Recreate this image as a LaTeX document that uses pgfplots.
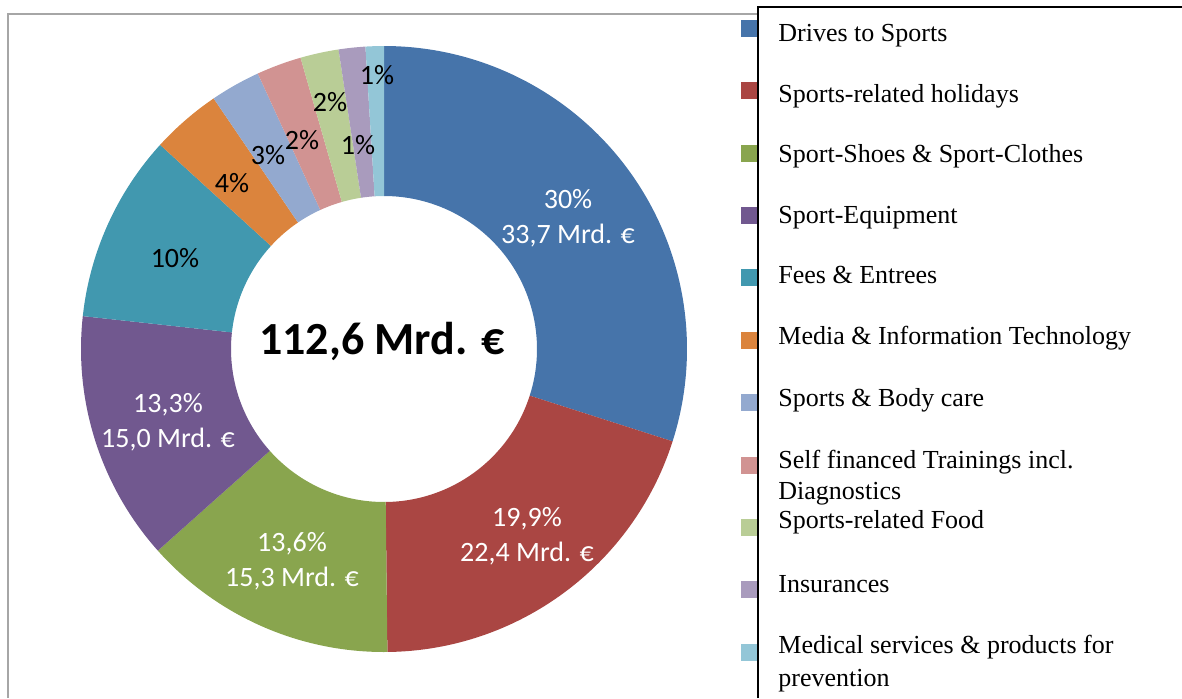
\documentclass[border=0pt]{standalone}
\usepackage{pgfplots}
\pgfplotsset{compat=1.18}
\usepackage{pgfplotstable}
\usepackage{fontspec}
\setmainfont{Liberation Serif}
\newfontfamily\calib{Carlito}
\usetikzlibrary{calc}
\definecolor{c0}{HTML}{4674AA}
\definecolor{c1}{HTML}{AA4643}
\definecolor{c2}{HTML}{89A54E}
\definecolor{c3}{HTML}{71588F}
\definecolor{c4}{HTML}{4198AF}
\definecolor{c5}{HTML}{DB843D}
\definecolor{c6}{HTML}{93A9CF}
\definecolor{c7}{HTML}{D19392}
\definecolor{c8}{HTML}{B9CD96}
\definecolor{c9}{HTML}{A99BBD}
\definecolor{c10}{HTML}{93C6D7}
\definecolor{framegray}{HTML}{A6A6A6}
% spending in Mrd. EUR, clockwise from the top
\pgfplotstableread{
id val
0 33.7
1 22.4
2 15.3
3 15.0
4 11.3
5 4.2
6 3.0
7 2.7
8 2.3
9 1.6
10 1.1
}\slices
\begin{document}
\begin{tikzpicture}
\begin{axis}[scale only axis, width=591pt, height=349pt,
  xmin=0, xmax=1182, ymin=0, ymax=698, y dir=reverse, hide axis]
% frame
\draw[framegray, line width=1pt] (axis cs:8,698) -- (axis cs:8,14) -- (axis cs:758,14);
% donut
\def\total{0}
\pgfplotsforeachungrouped \i in {0,...,10}{%
  \pgfplotstablegetelem{\i}{val}\of\slices
  \pgfmathsetmacro\total{\total+\pgfplotsretval}%
}
\def\angA{90}
\pgfplotsforeachungrouped \i in {0,...,10}{%
  \pgfplotstablegetelem{\i}{val}\of\slices
  \pgfmathsetmacro\angB{\angA-360*\pgfplotsretval/\total}%
  \edef\temp{\noexpand\fill[c\i] ($(axis cs:384,349)+(\angA:151.5pt)$) arc[start angle=\angA,end angle=\angB,radius=151.5pt] -- ($(axis cs:384,349)+(\angB:76.5pt)$) arc[start angle=\angB,end angle=\angA,radius=76.5pt] -- cycle;}%
  \temp
  \let\angA\angB
}
% slice labels
\tikzset{lab/.style={font=\calib\fontsize{14}{17.5}\selectfont, align=center, inner sep=0pt}}
\node[lab, text=white] at (axis cs:568,218) {30\%\\33,7 Mrd. €};
\node[lab, text=white] at (axis cs:527,536) {19,9\%\\22,4 Mrd. €};
\node[lab, text=white] at (axis cs:292,561) {13,6\%\\15,3 Mrd. €};
\node[lab, text=white] at (axis cs:168,422) {13,3\%\\15,0 Mrd. €};
\node[lab] at (axis cs:175,258) {10\%};
\node[lab] at (axis cs:232,183) {4\%};
\node[lab] at (axis cs:268,155) {3\%};
\node[lab] at (axis cs:302,140) {2\%};
\node[lab] at (axis cs:330,102) {2\%};
\node[lab] at (axis cs:358,145) {1\%};
\node[lab] at (axis cs:377,75) {1\%};
\node[font=\calib\bfseries\fontsize{23}{28}\selectfont, inner sep=0pt] at (axis cs:382,341) {112,6 Mrd. €};
% legend
\foreach \k/\yc in {0/28.5,1/90.9,2/153.2,3/215.6,4/277.9,5/340.3,6/402.6,7/465,8/527.3,9/589.7,10/652}{
  \edef\temp{\noexpand\fill[c\k] (axis cs:741,\yc-8.5) rectangle (axis cs:758,\yc+8.5);}\temp
}
\draw[black, line width=1pt] (axis cs:758,698) -- (axis cs:758,7) -- (axis cs:1182,7);
\tikzset{leg/.style={font=\fontsize{13}{15}\selectfont, anchor=base west, inner sep=0pt}}
\node[leg] at (axis cs:778,41) {Drives to Sports};
\node[leg] at (axis cs:778,102) {Sports-related holidays};
\node[leg] at (axis cs:778,162) {Sport-Shoes \& Sport-Clothes};
\node[leg] at (axis cs:778,223) {Sport-Equipment};
\node[leg] at (axis cs:778,283) {Fees \& Entrees};
\node[leg] at (axis cs:778,344) {Media \& Information Technology};
\node[leg] at (axis cs:778,406) {Sports \& Body care};
\node[leg] at (axis cs:778,468) {Self financed Trainings incl.};
\node[leg] at (axis cs:778,499) {Diagnostics};
\node[leg] at (axis cs:778,528) {Sports-related Food};
\node[leg] at (axis cs:778,592) {Insurances};
\node[leg] at (axis cs:778,653) {Medical services \& products for};
\node[leg] at (axis cs:778,686) {prevention};
\end{axis}
\pgfresetboundingbox
\path (0,0) rectangle (591pt,349pt);
\end{tikzpicture}
\end{document}
